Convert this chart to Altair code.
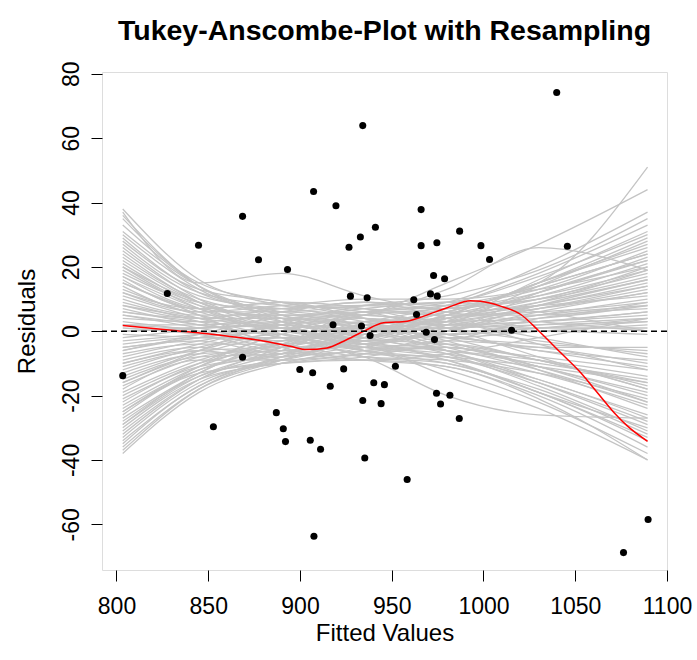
import altair as alt
import pandas as pd

# ---- data ----
pts_x = [868.7, 844.7, 877.4, 893.2, 827.7, 934.2, 907.4, 919.6, 966.0, 941.1,
         932.9, 926.7, 966.0, 974.6, 987.0, 998.6, 1003.3, 972.8, 978.8, 927.5,
         936.6, 962.0, 971.1, 974.8, 963.5, 1039.9, 1045.7, 803.4, 868.7, 899.9,
         852.8, 887.1, 890.9, 892.1, 918.0, 933.5, 938.2, 968.8, 973.3, 906.9,
         923.8, 952.0, 916.5, 940.2, 946.0, 934.2, 944.2, 974.4, 981.7, 976.6,
         986.8, 905.6, 911.2, 935.3, 958.4, 907.6, 1015.3, 1089.7, 1076.3]
pts_y = [35.7, 26.7, 22.2, 19.2, 11.7, 63.9, 43.4, 39.0, 37.8, 32.3,
         29.3, 26.1, 26.6, 27.5, 31.1, 26.6, 22.3, 17.3, 16.3, 10.9,
         10.4, 9.8, 11.6, 10.9, 5.2, 74.2, 26.4, -13.8, -8.1, -11.9,
         -29.7, -25.3, -30.3, -34.3, 2.0, 1.6, -1.3, -0.3, -2.6, -12.9,
         -11.7, -10.9, -17.1, -16.0, -16.6, -21.5, -22.5, -19.3, -19.9, -22.6,
         -27.1, -33.9, -36.7, -39.4, -46.1, -63.7, 0.3, -58.5, -68.8]

red_x = [803.4, 830, 860, 880, 894.8, 903.8, 914.7, 923.8, 934.7, 945.6, 958.4,
         967.5, 980.2, 993, 998.4, 1009.3, 1020.3, 1030.3, 1042.1, 1053, 1062.1,
         1071.2, 1078.5, 1089.4]
red_y = [1.8, 0.3, -1.5, -3.0, -4.7, -5.7, -5.2, -3.1, 0.0, 2.6, 3.1,
         4.7, 7.3, 9.5, 9.3, 7.8, 5.2, 0.0, -6.7, -12.9, -19.1,
         -25.3, -29.5, -34.2]

knot_x = [803.4, 845, 890, 935, 980, 1030, 1089.4]
gray_curves = [
    [38, 16, 8, 4, 3, 8, 14], [36, 14, 5, -2, -6, -10, -15], [35, 15, 9, 6, 2, 3, 5],
    [30, 13, 4, -3, 0, 12, 22], [29, 12, 6, 2, -5, -12, -22], [27, 12, 8, 7, 5, 6, 9],
    [26, 10, 2, -4, 2, 14, 28], [25, 11, 7, 5, 3, -2, -8], [24, 9, 1, -5, -8, -15, -27],
    [23, 10, 6, 8, 9, 17, 30], [22, 9, 3, -1, -2, 0, 2], [21, 8, 1, 3, 8, 18, 33],
    [20, 9, 7, 9, 4, -4, -12], [19, 7, -1, -6, -9, -19, -33], [18, 8, 4, 0, 4, 10, 18],
    [17, 7, 5, 6, 6, 8, 11], [16, 7, 9, 7, 1, -8, -18], [15, 6, 0, -2, 5, 15, 26],
    [14, 6, 6, 3, -3, -12, -24], [13, 5, 2, 1, 3, 7, 13], [12, 6, 8, 10, 10, 13, 20],
    [11, 4, -2, -7, -8, -11, -16], [10, 5, 5, 4, 2, 3, 6], [9, 3, -3, 0, 6, 14, 24],
    [8, 4, 4, 1, -6, -16, -29], [7, 2, -1, -3, 0, 5, 10], [6, 4, 7, 8, 7, 11, 19],
    [5, 1, -4, -8, -9, -13, -21], [4, 3, 5, 2, 0, 1, 3], [3, 0, -5, -2, 4, 9, 16],
    [2, 2, 3, -4, -5, -8, -12], [1, -1, -6, -1, 6, 12, 23], [0, 1, 2, -2, -7, -17, -31],
    [-1, -2, -3, 2, 3, 4, 8], [-2, 1, 6, 9, 8, 10, 17], [-3, -1, 1, -4, -6, -9, -14],
    [-4, -2, -2, 0, -1, 0, -1], [-5, -3, -7, -3, 5, 15, 27], [-6, -1, 4, 2, -4, -11, -19],
    [-7, -4, -4, 3, 4, 7, 12], [-8, -3, 0, -6, -10, -18, -32], [-9, -5, -8, -2, 5, 11, 21],
    [-10, -4, 2, 5, 1, -3, -7], [-11, -6, -5, 1, 7, 13, 25], [-12, -5, -1, -8, -10, -19, -34],
    [-13, -7, -6, -4, -1, 2, 4], [-14, -6, 0, 4, -2, -9, -16], [-15, -8, -7, -1, 4, 8, 15],
    [-16, -7, -2, -5, -7, -13, -23], [-17, -8, -4, 6, 5, 5, 9], [-18, -9, -9, -7, -5, -11, -20],
    [-19, -9, -3, 2, 6, 14, 24], [-20, -10, -6, -9, -11, -20, -36], [-21, -10, -1, 3, 2, 1, 1],
    [-22, -11, -8, -6, -3, -5, -10], [-23, -11, -4, -3, 3, 9, 19], [-24, -12, -7, -1, -6, -15, -26],
    [-25, -12, -5, 1, 2, 7, 14], [-26, -13, -10, -8, -4, -9, -18], [-27, -13, -3, 0, 4, 12, 22],
    [-28, -14, -9, -5, -8, -16, -28], [-29, -14, -6, 2, 1, 3, 6], [-30, -15, -10, -7, -2, -6, -9],
    [-31, -15, -7, -1, 5, 15, 29], [-33, -16, -9, -3, -4, -9, -17], [-34, -17, -8, -4, 0, 6, 12],
    [-35, -17, -10, -9, -11, -21, -40], [-36, -18, -9, -2, 3, 16, 31], [-38, -19, -10, -6, -5, -11, -22],
    [-37, -18, -8, 0, 1, 2, 3], [37, 15, 18, 11, 6, 3, 0], [2, 1, 3, 6, 8, 15, 51],
    [-5, -2, 2, 5, 15, 27, 44], [0, 1, 2, 5, 13, 26, 19], [5, 2, -2, -8, -20, -26, -27],
    [8, 4, 1, -4, -14, -24, -40], [33, 14, 3, -5, -3, 4, 7], [-32, -15, -5, 5, 7, 10, 20],
    [28, 13, 9, 4, -1, -5, -5], [-16, -6, 3, 7, 9, 6, 0], [15, 5, -5, -9, -7, -2, 4],
    [20, 9, 4, 8, 11, 19, 35], [-25, -11, -2, -6, -12, -22, -38], [12, 7, 9, 4, -1, -6, -11],
    [-10, -6, -9, -5, 1, 5, 8], [6, 3, 1, 6, 9, 20, 37], [-6, -2, 0, -3, -9, -19, -30],
    [31, 14, 5, 1, -1, 1, 4], [-29, -13, -4, 1, -2, -4, -6], [17, 7, 1, -4, 0, 8, 16],
]

x_ticks = [800, 850, 900, 950, 1000, 1050, 1100]
y_ticks = [-60, -40, -20, 0, 20, 40, 60, 80]

# ---- tables ----
gray_rows = []
for i, curve in enumerate(gray_curves):
    for xv, yv in zip(knot_x, curve):
        gray_rows.append({"x": xv, "y": yv, "curve": i})
df_gray = pd.DataFrame(gray_rows)
df_pts = pd.DataFrame({"x": pts_x, "y": pts_y})
df_red = pd.DataFrame({"x": red_x, "y": red_y})
df_zero = pd.DataFrame({"y": [0]})

FONT = "Liberation Sans"

x_enc = alt.X(
    "x:Q",
    scale=alt.Scale(domain=[792.1, 1100], nice=False, zero=False),
    axis=alt.Axis(
        values=x_ticks, title="Fitted Values", grid=False, domain=False,
        labelExpr="'' + datum.value",
        tickColor="black", tickSize=11, tickWidth=1,
        labelFont=FONT, labelFontSize=23, labelColor="black", labelPadding=14,
        labelFlush=False, labelOverlap=False,
        titleFont=FONT, titleFontSize=24, titleFontWeight="normal", titleColor="black",
        titleX=282.5, titleY=70, titleBaseline="alphabetic", titleAlign="center",
    ),
)
y_enc = alt.Y(
    "y:Q",
    scale=alt.Scale(domain=[-74.2, 80.56], nice=False, zero=False),
    axis=alt.Axis(
        values=y_ticks, title="Residuals", grid=False, domain=False,
        labelExpr="'' + datum.value",
        tickColor="black", tickSize=11, tickWidth=1,
        labelFont=FONT, labelFontSize=23, labelColor="black", labelPadding=13,
        labelAngle=270, labelAlign="center", labelBaseline="alphabetic",
        labelFlush=False, labelOverlap=False,
        titleFont=FONT, titleFontSize=24, titleFontWeight="normal", titleColor="black",
        titleAngle=270, titleX=-68, titleY=249, titleBaseline="alphabetic", titleAlign="center",
    ),
)

gray = alt.Chart(df_gray).mark_line(
    color="#c4c4c4", strokeWidth=1.3, interpolate="monotone", clip=True
).encode(x=x_enc, y=y_enc, detail="curve:N")

red = alt.Chart(df_red).mark_line(
    color="#ff0000", strokeWidth=1.5, interpolate="monotone", clip=True
).encode(x=x_enc, y=y_enc)

zero = alt.Chart(df_zero).mark_rule(
    color="black", strokeDash=[6, 4], strokeWidth=1.3
).encode(y=y_enc)

points = alt.Chart(df_pts).mark_circle(
    color="black", size=50, opacity=1
).encode(x=x_enc, y=y_enc)

chart = alt.layer(gray, red, zero, points).properties(
    width=565,
    height=498,
    autosize=alt.AutoSizeParams(type="none"),
    padding={"left": 102, "top": 72, "right": 30, "bottom": 90},
    title=alt.TitleParams(
        "Tukey-Anscombe-Plot with Resampling",
        font=FONT, fontSize=28.5, fontWeight="bold", color="black",
        anchor="middle", baseline="alphabetic", offset=-7,
    ),
).configure_view(
    stroke="black", strokeWidth=1
).configure(background="white")

chart.save("out.html", embed_options={"renderer": "svg", "actions": False})
